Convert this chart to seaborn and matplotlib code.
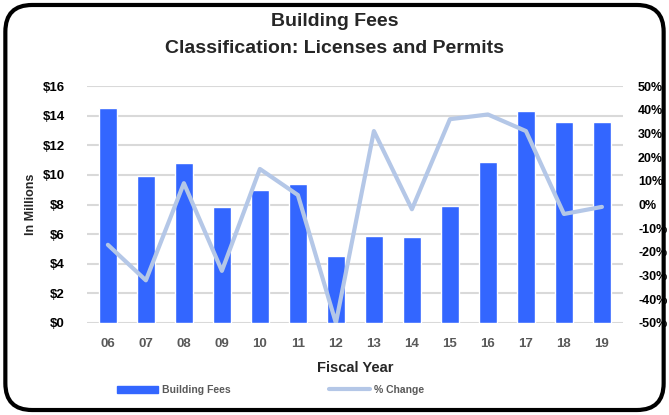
import numpy as np
import pandas as pd
import seaborn as sns
import matplotlib.pyplot as plt
from matplotlib.patches import FancyBboxPatch, Patch
from matplotlib.lines import Line2D
from matplotlib.ticker import FuncFormatter

years = ["06", "07", "08", "09", "10", "11", "12", "13", "14", "15", "16", "17", "18", "19"]
fees = [14.5, 9.9, 10.8, 7.8, 9.0, 9.4, 4.5, 5.9, 5.8, 7.9, 10.9, 14.3, 13.6, 13.6]
pct_change = [-17, -32, 9, -28, 15, 4, -50, 31, -2, 36, 38, 31, -4, -1]

df = pd.DataFrame({"year": years, "fees": fees, "pct": pct_change})

sns.set_theme(style="white")
plt.rcParams["font.family"] = ["Liberation Sans Narrow", "Liberation Sans", "DejaVu Sans"]
plt.rcParams["font.weight"] = "bold"

bar_color = "#3366FF"
line_color = "#B4C7E7"

fig = plt.figure(figsize=(6.69, 4.15), dpi=100)
ax = fig.add_axes([0.130, 0.2217, 0.801, 0.571])

sns.barplot(df, x="year", y="fees", color=bar_color, width=0.47, saturation=1, ax=ax, zorder=3)
ax.set_ylim(0, 16)
ax.set_yticks(np.arange(0, 17, 2))
ax.yaxis.set_major_formatter(FuncFormatter(lambda v, p: f"${v:.0f}"))
ax.grid(axis="y", color="#D9D9D9", linewidth=1.5, zorder=0)
ax.set_axisbelow(True)
ax.set_xlim(-0.55, 13.55)
for s in ax.spines.values():
    s.set_visible(False)
ax.tick_params(axis="y", labelsize=9.5, length=0, pad=16, labelcolor="black")
ax.tick_params(axis="x", labelsize=9.5, length=0, pad=11, labelcolor="#595959")
ax.set_xlabel("Fiscal Year", fontsize=10.5, fontweight="bold", labelpad=8)
ax.set_ylabel("In Millions", fontsize=9, fontweight="bold", labelpad=4)

ax2 = ax.twinx()
sns.lineplot(x=np.arange(len(years)), y=df["pct"], color=line_color, linewidth=3, ax=ax2, zorder=4)
ax2.set_ylim(-50, 50)
ax2.set_yticks(np.arange(-50, 51, 10))
ax2.yaxis.set_major_formatter(FuncFormatter(lambda v, p: f"{v:.0f}%"))
ax2.set_ylabel("")
for s in ax2.spines.values():
    s.set_visible(False)
ax2.tick_params(axis="y", labelsize=9, length=0, pad=11, labelcolor="black")

# titles
fig.text(0.5, 0.948, "Building Fees", ha="center", va="center", fontsize=14, fontweight="bold")
fig.text(0.5, 0.882, "Classification: Licenses and Permits", ha="center", va="center", fontsize=14, fontweight="bold")

# legend
handles = [Patch(color=bar_color), Line2D([0], [0], color=line_color, linewidth=3)]
fig.legend(handles, ["Building Fees", "% Change"], loc="center left", bbox_to_anchor=(0.175, 0.06),
           ncol=2, frameon=False, fontsize=7.5, handlelength=3.9, handleheight=0.7,
           handletextpad=0.4, columnspacing=9.5, borderpad=0, borderaxespad=0,
           labelcolor="#595959")

# rounded frame
frame = FancyBboxPatch((0.008, 0.012), 0.984, 0.976, boxstyle="round,pad=0,rounding_size=0.04",
                       transform=fig.transFigure, facecolor="none", edgecolor="black",
                       linewidth=3, mutation_aspect=669 / 415)
fig.patches.append(frame)

fig.savefig("out.png", dpi=100)
